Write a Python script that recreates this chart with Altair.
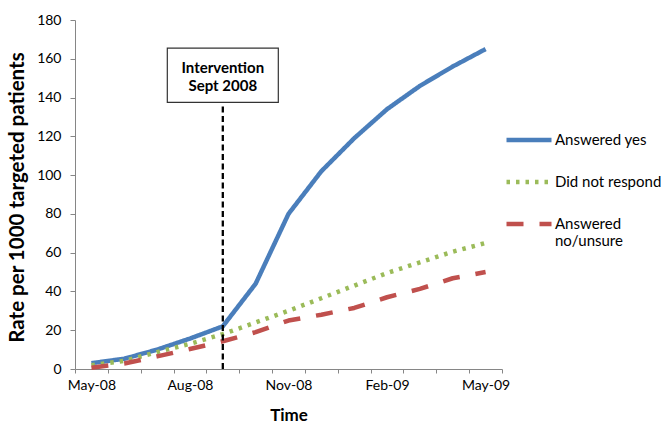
import json

import altair as alt
import pandas as pd

# Monthly rates per 1000 targeted patients, May 2008 - May 2009
months = ["May-08", "Jun-08", "Jul-08", "Aug-08", "Sep-08", "Oct-08", "Nov-08",
          "Dec-08", "Jan-09", "Feb-09", "Mar-09", "Apr-09", "May-09"]
answered_yes = [3, 5.3, 10, 15.7, 22, 44, 80, 102, 119, 134, 146, 156, 165]
did_not_respond = [2, 4.2, 8.7, 13, 18, 24, 30, 36.5, 43, 49.5, 55, 60.5, 65]
answered_no_unsure = [0.7, 2.8, 6.5, 10.3, 14.3, 19, 25, 28, 31.5, 37, 41.3, 46.8, 50]

series_names = ["Answered yes", "Did not respond", "Answered no/unsure"]
series_colors = ["#4A7EBB", "#9BBB59", "#C0504D"]
series_dashes = [[1, 0], [3.5, 6], [17, 16]]

labelled_months = ["May-08", "Aug-08", "Nov-08", "Feb-09", "May-09"]
y_ticks = list(range(0, 181, 20))

intervention_month = "Sep-08"
intervention_text = ["Intervention", "Sept 2008"]
box_top, box_bottom = 165.5, 137.5
text_y = 155

FONT = "Lato"
AXIS_GREY = "#868686"

rows = []
for name, values in zip(series_names, [answered_yes, did_not_respond, answered_no_unsure]):
    for m, v in zip(months, values):
        rows.append({"month": m, "rate": v, "series": name})
df = pd.DataFrame(rows)

x_scale = alt.Scale(type="band", domain=months, paddingInner=0, paddingOuter=0)
y_scale = alt.Scale(domain=[0, 180], nice=False)

x_axis = alt.Axis(
    title="Time",
    tickBand="extent",
    labelExpr="indexof(%s, datum.value) >= 0 ? datum.value : ''" % json.dumps(labelled_months),
    labelOverlap=False,
    labelAngle=0,
    labelFont=FONT,
    labelFontSize=14,
    labelColor="black",
    labelPadding=5,
    tickSize=4,
    tickColor=AXIS_GREY,
    domainColor=AXIS_GREY,
    grid=False,
    titleFont=FONT,
    titleFontSize=17,
    titleFontWeight="bold",
    titleColor="black",
    titleBaseline="middle",
    titleY=46,
)

y_axis = alt.Axis(
    title="Rate per 1000 targeted patients",
    values=y_ticks,
    tickCount=len(y_ticks),
    labelOverlap=False,
    labelFlush=False,
    labelFont=FONT,
    labelFontSize=14,
    labelColor="black",
    labelPadding=9,
    tickSize=5,
    tickColor=AXIS_GREY,
    domainColor=AXIS_GREY,
    grid=False,
    titleFont=FONT,
    titleFontSize=20.5,
    titleFontWeight="bold",
    titleColor="black",
    titleAngle=-90,
    titleAlign="center",
    titleBaseline="middle",
    titleX=-58,
    titleY=177,
)

legend = alt.Legend(
    title=None,
    orient="none",
    legendX=429,
    legendY=95,
    symbolType="stroke",
    symbolSize=2025,
    symbolStrokeWidth=4.5,
    labelFont=FONT,
    labelFontSize=15,
    labelColor="black",
    labelOffset=1,
    labelBaseline="middle",
    labelLimit=200,
    rowPadding=8,
    labelExpr="datum.label == 'Answered no/unsure' ? ['Answered', 'no/unsure'] : datum.label",
)


def x_enc():
    return alt.X("month:N", scale=x_scale, axis=x_axis, bandPosition=0.5)


def y_enc(field):
    return alt.Y(field, scale=y_scale, axis=y_axis)


lines = alt.Chart(df).mark_line(strokeWidth=4.5, strokeCap="butt", strokeJoin="round").encode(
    x=x_enc(),
    y=y_enc("rate:Q"),
    color=alt.Color("series:N", scale=alt.Scale(domain=series_names, range=series_colors), legend=legend),
    strokeDash=alt.StrokeDash("series:N", scale=alt.Scale(domain=series_names, range=series_dashes), legend=legend),
)

marker = pd.DataFrame({"month": [intervention_month], "base": [0], "top": [box_top],
                       "bottom": [box_bottom], "ty": [text_y]})

rule = alt.Chart(marker).mark_rule(color="black", strokeWidth=2.3, strokeDash=[6, 3.5]).encode(
    x=x_enc(),
    y=y_enc("base:Q"),
    y2="bottom:Q",
)

box = alt.Chart(marker).mark_bar(width=111, fill="white", stroke="#333333", strokeWidth=1.2).encode(
    x=alt.X("month:N", scale=x_scale, axis=x_axis),
    y=y_enc("top:Q"),
    y2="bottom:Q",
)

label = alt.Chart(marker).mark_text(
    text=intervention_text, font=FONT, fontSize=15, fontWeight="bold", color="black",
    baseline="middle", lineHeight=18,
).encode(
    x=x_enc(),
    y=y_enc("ty:Q"),
)

chart = alt.layer(lines, rule, box, label).properties(
    width=427,
    height=349,
    padding={"left": 75, "top": 20, "right": 161, "bottom": 56},
    autosize=alt.AutoSizeParams(type="none"),
    background="white",
).configure_view(stroke=None)

chart.save("out.html", embed_options={"renderer": "svg", "actions": False})
